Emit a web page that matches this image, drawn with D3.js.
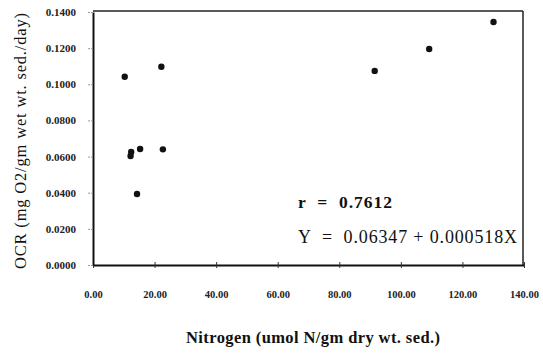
<!DOCTYPE html>
<html><head><meta charset="utf-8">
<script src="https://cdn.jsdelivr.net/npm/d3@7"></script>
<style>body{margin:0;background:#fff}svg{display:block}</style>
</head><body>
<svg id="c" width="543" height="354"></svg>
<script>
const nitrogen = [10.3, 22.2, 12.2, 12.4, 15.3, 22.7, 14.3, 91.5, 109.2, 130.1];
const ocr = [0.1042, 0.1097, 0.0603, 0.0625, 0.0642, 0.0640, 0.0393, 0.1074, 0.1195, 0.1345];
const xTicks = [0, 20, 40, 60, 80, 100, 120, 140];
const yTicks = [0, 0.02, 0.04, 0.06, 0.08, 0.10, 0.12, 0.14];
const rText = "r  =  0.7612";
const eqText = "Y  =  0.06347 + 0.000518X";
const xTitle = "Nitrogen (umol N/gm dry wt. sed.)";
const yTitle = "OCR (mg O2/gm wet wt. sed./day)";

const svg = d3.select("#c");
const L = 93, R = 524, T = 12, B = 265;
const x = d3.scaleLinear().domain([0, 140]).range([L, R]);
const y = d3.scaleLinear().domain([0, 0.14]).range([B, T]);
const serif = "Liberation Serif, serif";

// frame top/right
svg.append("line").attr("x1", L).attr("x2", R - 1).attr("y1", T - 1).attr("y2", T - 1).attr("stroke", "#222").attr("stroke-width", 1.5);
svg.append("line").attr("x1", R - 1).attr("x2", R - 1).attr("y1", T - 1).attr("y2", B).attr("stroke", "#222").attr("stroke-width", 1.5);

const xa = svg.append("g").attr("transform", `translate(0,${B})`)
  .call(d3.axisBottom(x).tickValues(xTicks).tickFormat(d3.format(".2f")).tickSizeInner(4).tickSizeOuter(0).tickPadding(22));
xa.select(".domain").attr("stroke", "#111").attr("stroke-width", 2);
xa.selectAll(".tick line").attr("y1", -3).attr("y2", 3).attr("stroke", "#333");
xa.selectAll("text").attr("font-family", serif).attr("font-size", 10.5).attr("font-weight", "bold").attr("fill", "#222");

const ya = svg.append("g").attr("transform", `translate(${L},0)`)
  .call(d3.axisLeft(y).tickValues(yTicks).tickFormat(d3.format(".4f")).tickSizeInner(6).tickSizeOuter(0).tickPadding(11));
ya.select(".domain").attr("stroke", "#111").attr("stroke-width", 2);
ya.selectAll(".tick line").attr("stroke", "#999").attr("stroke-dasharray", "2,1");
ya.selectAll("text").attr("font-family", serif).attr("font-size", 11).attr("font-weight", "bold").attr("fill", "#222");

svg.append("g").selectAll("circle").data(nitrogen).join("circle")
  .attr("cx", (d) => x(d)).attr("cy", (d, i) => y(ocr[i])).attr("r", 3.2).attr("fill", "#111");

svg.append("text").attr("x", 298).attr("y", 208).text(rText)
  .attr("textLength", 94).attr("lengthAdjust", "spacing")
  .attr("font-family", serif).attr("font-size", 17.5).attr("font-weight", "bold").attr("fill", "#111").style("white-space", "pre");
svg.append("text").attr("x", 298).attr("y", 243).text(eqText)
  .attr("textLength", 219).attr("lengthAdjust", "spacing")
  .attr("font-family", serif).attr("font-size", 18).attr("fill", "#111").style("white-space", "pre");

svg.append("text").attr("x", 313).attr("y", 343).attr("text-anchor", "middle").text(xTitle)
  .attr("textLength", 254).attr("lengthAdjust", "spacing")
  .attr("font-family", serif).attr("font-size", 16.5).attr("font-weight", "bold").attr("fill", "#111");
svg.append("text").attr("transform", "translate(26,141) rotate(-90)").attr("text-anchor", "middle").text(yTitle)
  .attr("textLength", 256).attr("lengthAdjust", "spacing")
  .attr("font-family", serif).attr("font-size", 16.5).attr("fill", "#111");
</script>
</body></html>
